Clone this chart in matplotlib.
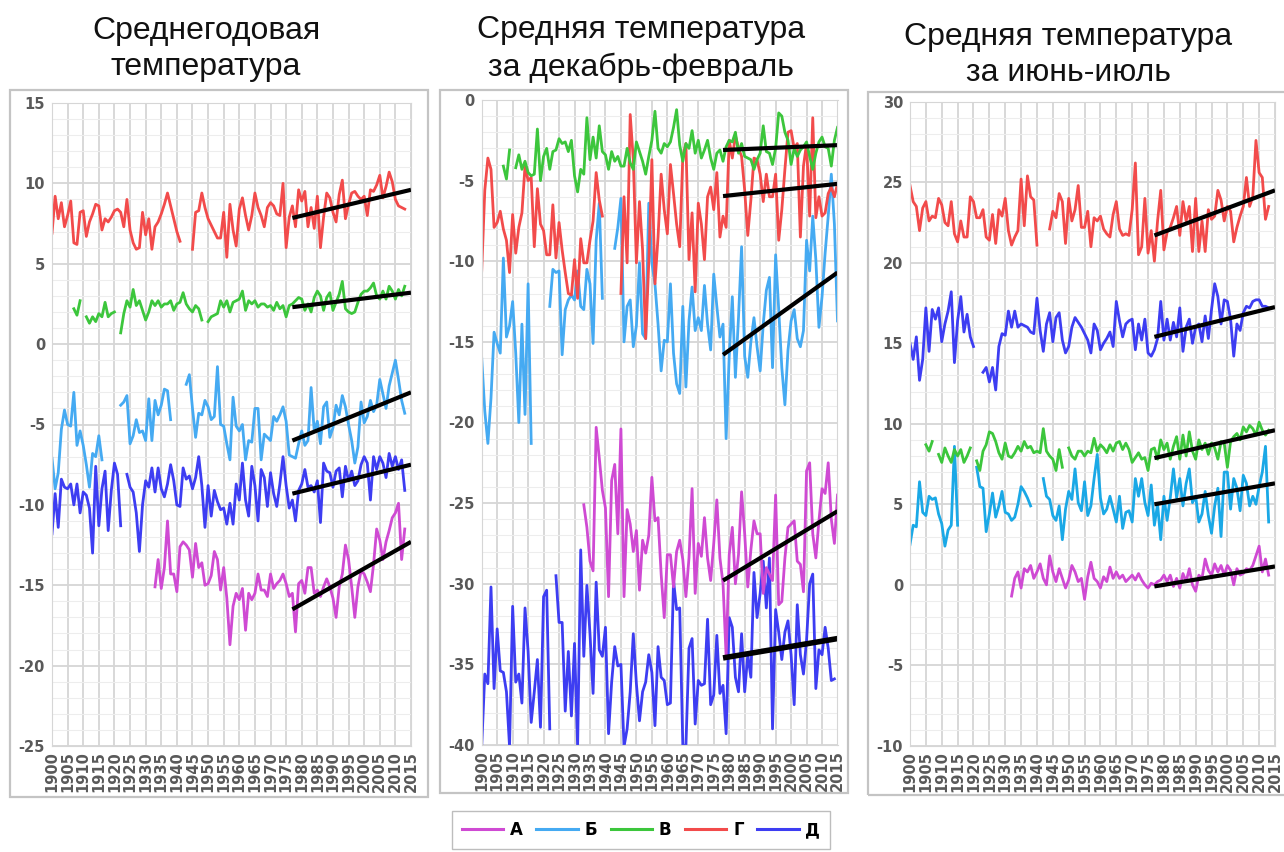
import numpy as np
import matplotlib
matplotlib.use('Agg')
import matplotlib.pyplot as plt
from matplotlib.patches import Rectangle
from matplotlib.lines import Line2D

plt.rcParams['axes.unicode_minus'] = False

nan = np.nan
years = np.arange(1900, 2016)

names = ['А', 'Б', 'В', 'Г', 'Д']
colors = ['#cf4ad3', '#45aaf2', '#3cc63c', '#f24b4b', '#3d3df2']
colors_p3 = ['#cf4ad3', '#1aa8e6', '#3cc63c', '#f24b4b', '#3d3df2']

titles = ['Среднегодовая\nтемпература',
          'Средняя температура\nза декабрь-февраль',
          'Средняя температура\nза июнь-июль']

# ---- panel 1: annual mean ----
p1_a_start = 1933
p1_a = [-15.1, -13.4, -15.2, -13.9, -11.0, -14.3, -14.3,
        -15.4, -12.6, -12.3, -12.5, -12.8, -14.5, -12.4, -13.9, -13.6, -15.0,
        -14.9, -14.4, -12.9, -13.4, -15.3, -13.9, -15.8, -18.7, -16.3, -15.5,
        -15.9, -15.2, -17.8, -15.5, -15.9, -15.5, -14.3, -15.3, -15.3, -15.7,
        -14.3, -15.2, -14.9, -14.7, -14.3, -14.9, -15.7, -15.5, -17.9, -14.9,
        -14.7, -15.5, -13.9, -13.9, -15.5, -15.3, -15.7, -15.1, -14.6, -15.1,
        -15.8, -17.0, -15.1, -14.3, -12.5, -13.4, -15.1, -17.0, -15.1, -14.1,
        -14.3, -14.8, -15.4, -13.7, -11.5, -12.2, -13.4, -12.3, -11.6, -10.8,
        -10.5, -9.9, -13.4, -11.5]
p1_b_start = 1900
p1_b = [-7.1, -9.0, -8.0, -5.3, -4.1, -5.0, -5.1, -3.0, -6.3, -5.4,
        -6.3, -7.5, -8.9, -6.8, -7.0, -5.7, -7.2, nan, nan, nan,
        nan, nan, -3.8, -3.6, -3.2, -6.2, -5.7, -4.7, -5.5, -5.4,
        -6.0, -3.4, -6.0, -3.5, -4.4, -3.8, -2.8, -2.9, -4.7, nan,
        nan, nan, nan, -2.5, -1.9, -4.0, -5.8, -4.3, -4.4, -3.5,
        -3.9, -4.7, -4.5, -1.4, -5.0, -5.1, -6.2, -7.2, -3.3, -5.1,
        -5.4, -5.0, -7.2, -6.0, -6.1, -4.0, -4.0, -7.2, -5.6, -5.8,
        -6.0, -4.5, -4.8, -4.4, -3.9, -4.8, -6.9, -7.0, -7.1, -6.2,
        -5.4, -6.3, -6.0, -2.7, -5.4, -4.8, -6.2, -3.9, -3.6, -5.8,
        -5.2, -3.8, -4.4, -3.2, -3.9, -5.0, -6.0, -7.4, -6.4, -3.6,
        -4.9, -4.5, -3.5, -4.2, -3.8, -2.2, -3.1, -4.0, -2.6, -1.8,
        -1.0, -2.2, -3.5, -4.3]
p1_c_start = 1907
p1_c = [2.2, 1.8, 2.7,
        nan, 1.7, 1.3, 1.7, 1.4, 1.9, 1.7, 2.6, 1.7, 1.9,
        2.0, nan, 0.7, 1.9, 2.7, 2.3, 3.4, 2.4, 2.7, 2.1,
        1.5, 2.0, 2.7, 2.4, 2.7, 2.3, 2.5, 2.5, 2.7, 2.1,
        2.5, 2.6, 3.2, 2.5, 2.2, 2.0, 2.4, 2.2, 1.5, nan,
        1.4, 1.7, 1.8, 1.9, 2.7, 2.3, 2.7, 2.0, 2.6, 2.7,
        2.8, 3.3, 2.1, 2.7, 2.5, 2.7, 2.3, 2.5, 2.5, 2.3,
        2.4, 2.1, 2.6, 2.2, 2.4, 1.7, 2.4, 2.5, 2.7, 2.9,
        2.8, 2.1, 2.5, 2.0, 2.9, 3.3, 3.0, 2.1, 2.9, 3.2,
        2.1, 2.6, 3.1, 3.9, 2.2, 2.0, 1.9, 2.0, 2.6, 3.1,
        3.3, 3.3, 3.5, 3.8, 3.0, 2.8, 3.3, 2.8, 3.6, 3.3,
        2.8, 3.4, 3.0, 3.6]
p1_d_start = 1900
p1_d = [6.9, 9.2, 7.8, 8.8, 7.3, 8.0, 8.9, 6.3, 6.2, 8.2,
        8.3, 6.7, 7.6, 8.1, 8.7, 8.6, 7.1, 7.8, 7.6, 7.9,
        8.3, 8.4, 8.2, 7.3, 9.0, 7.1, 6.3, 5.9, 6.0, 8.2,
        6.8, 7.8, 5.9, 7.3, 7.6, 8.1, 8.7, 9.4, 8.6, 7.8,
        7.0, 6.4, nan, nan, nan, 5.9, 8.2, 8.3, 9.4, 8.5,
        7.8, 7.4, 7.0, 6.6, 6.6, 8.2, 5.4, 8.7, 7.1, 6.1,
        8.4, 9.1, 8.0, 7.1, 8.0, 9.4, 8.5, 8.0, 7.3, 8.5,
        8.8, 8.6, 8.1, 8.0, 10.0, 6.0, 7.9, 8.6, 7.3, 9.6,
        8.9, 9.5, 7.3, 8.5, 7.2, 9.2, 6.0, 7.9, 9.4, 9.1,
        8.2, 7.6, 9.3, 10.2, 7.8, 8.7, 9.4, 9.5, 9.2, 9.0,
        9.2, 8.0, 9.6, 9.5, 9.9, 10.5, 9.1, 9.8, 10.7, 10.1,
        9.0, 8.6, 8.5, 8.4]
p1_e_start = 1900
p1_e = [-11.8, -9.3, -11.4, -8.4, -8.9, -9.0, -8.7, -10.0, -8.7, -10.5,
        -9.2, -9.4, -10.2, -13.0, -7.6, -11.3, -9.0, -7.9, -11.6, -9.1,
        -7.4, -8.1, -11.3, nan, -8.1, -8.9, -9.2, -10.5, -12.9, -10.0,
        -8.5, -8.9, -7.7, -9.2, -7.7, -9.0, -9.5, -8.7, -7.5, -8.5,
        -10.0, -10.1, -7.7, -8.4, -8.2, -9.0, -8.3, -7.0, -8.8, -11.4,
        -8.8, -10.7, -9.1, -9.8, -10.3, -10.2, -11.2, -9.9, -11.2, -8.7,
        -9.7, -7.4, -9.7, -10.7, -7.6, -8.8, -11.0, -7.8, -8.3, -10.1,
        -8.0, -9.3, -10.1, -8.7, -7.0, -8.8, -10.2, -9.7, -11.0, -9.1,
        -8.7, -7.8, -8.9, -8.8, -9.2, -8.5, -11.1, -7.4, -7.9, -8.0,
        -8.9, -7.9, -7.7, -9.5, -7.6, -8.5, -7.9, -8.8, -8.5, -7.5,
        -7.0, -7.4, -9.7, -7.0, -7.8, -7.0, -7.4, -8.3, -6.8, -7.6,
        -7.0, -7.8, -7.2, -9.1]
p1_trend_years = [1977, 2015]
p1_trend_start = [-16.5, -6.0, 2.3, 7.85, -9.3]
p1_trend_end = [-12.3, -3.0, 3.2, 9.6, -7.5]

# ---- panel 2: December-February ----
p2_a_start = 1933
p2_a = [-25.1, -26.5, -28.6, -29.2, -20.3, -22.2, -24.2,
        -25.3, -30.8, -23.6, -22.6, -26.9, -20.4, -30.8, -25.4, -26.3, -28.0,
        -26.7, -30.4, -27.3, -28.1, -27.0, -23.4, -26.1, -25.9, -29.4, -32.1,
        -28.2, -28.2, -30.2, -28.0, -27.3, -28.5, -30.8, -28.4, -24.1, -30.6,
        -27.5, -28.3, -25.9, -28.4, -29.8, -27.5, -24.8, -28.4, -30.0, -34.5,
        -28.2, -26.5, -30.0, -28.2, -24.3, -26.9, -30.2, -27.9, -26.1, -26.9,
        -26.9, -30.6, -29.0, -29.4, -29.8, -24.5, -31.3, -31.1, -28.4, -26.5,
        -26.3, -26.1, -28.6, -28.8, -30.5, -23.0, -22.5, -26.9, -28.4, -26.1,
        -24.1, -24.4, -22.5, -26.0, -27.5, -24.5]
p2_b_start = 1900
p2_b = [-16.0, -19.3, -21.3, -18.5, -14.4, -15.1, -15.7, -9.8, -14.7, -14.0,
        -12.5, -15.7, -20.0, -13.9, -19.5, -11.4, -21.3, nan, nan, nan,
        nan, nan, -12.8, -10.5, -10.7, -10.6, -15.8, -13.0, -12.4, -12.1,
        -12.4, -10.6, -12.8, -13.0, -10.5, -11.4, -15.1, -8.7, -6.4, -12.3,
        nan, nan, nan, -9.2, -7.9, -6.1, -15.0, -12.8, -12.4, -15.3,
        -14.0, -10.1, -14.5, -14.8, -6.4, -10.1, -11.4, -13.9, -16.8, -14.9,
        -15.0, -11.4, -15.7, -17.6, -18.2, -12.8, -17.8, -13.7, -11.6, -14.3,
        -13.5, -14.3, -11.5, -13.9, -15.5, -10.8, -12.8, -14.7, -13.9, -21.0,
        -15.9, -12.2, -17.2, -13.5, -9.1, -15.9, -17.2, -15.0, -13.5, -15.3,
        -16.8, -13.9, -11.8, -11.0, -16.6, -9.6, -13.0, -16.6, -18.9, -15.5,
        -13.7, -13.0, -14.8, -15.3, -14.3, -8.7, -10.6, -7.2, -9.9, -14.1,
        -12.2, -9.5, -7.2, -4.6, -7.7, -13.7]
p2_c_start = 1907
p2_c = [-4.1, -4.9, -3.1,
        nan, -4.2, -3.4, -4.3, -3.8, -4.5, -4.7, -4.6, -1.8, -5.0,
        -3.5, -3.0, -4.3, -3.2, -3.1, -2.4, -2.7, -2.6, -3.2, -2.5,
        -4.7, -5.7, -4.3, -4.6, -1.1, -3.7, -2.3, -3.6, -1.6, -3.2,
        -3.4, -4.3, -3.2, -3.8, -3.5, -4.1, -4.1, -3.0, -3.9, -4.3,
        -2.6, -3.2, -3.8, -4.6, -3.5, -2.5, -0.7, -3.0, -3.3, -2.7,
        -2.9, -2.6, -1.7, -0.6, -2.8, -3.8, -2.7, -3.0, -1.9, -3.3,
        -2.5, -3.6, -3.1, -2.5, -3.6, -4.3, -3.3, -3.1, -3.8, -2.9,
        -2.5, -2.6, -2.0, -3.3, -2.7, -3.5, -3.6, -3.7, -4.3, -3.7,
        -3.3, -1.6, -3.2, -3.3, -4.0, -3.0, -0.8, -1.0, -2.0, -2.5,
        -4.0, -3.0, -3.5, -3.1, -2.9, -2.6, -3.5, -4.3, -3.3, -2.6,
        -2.3, -2.9, -3.0, -4.1, -2.5, -1.7]
p2_d_start = 1900
p2_d = [-10.6, -5.6, -3.6, -4.3, -7.9, -7.6, -6.9, -8.0, -8.7, -10.7,
        -7.1, -9.5, -7.9, -7.0, -4.1, -5.0, -4.8, -9.1, -5.5, -7.7,
        -8.1, -9.6, -9.6, -6.5, -9.8, -7.6, -9.3, -10.7, -12.0, -12.1,
        -9.9, -12.3, -8.6, -10.1, -10.1, -8.7, -7.5, -4.5, -6.2, -7.2,
        nan, nan, nan, nan, nan, -12.0, -6.0, -10.1, -0.9, -3.7,
        -10.1, -6.3, -9.3, -14.8, -10.1, -3.7, -11.4, -8.5, -4.6, -6.8,
        -8.3, -4.0, -5.8, -7.7, -9.1, -3.5, -2.7, -9.9, -7.0, -11.9,
        -6.4, -7.7, -9.9, -6.0, -5.4, -6.8, -4.5, -8.5, -7.2, -7.9,
        -2.5, -3.6, -2.2, -3.0, -3.5, -5.6, -8.4, -6.2, -3.6, -3.7,
        -4.6, -6.3, -4.6, -6.0, -6.0, -4.6, -8.7, -6.8, -4.3, -2.0,
        -1.9, -3.0, -2.7, -8.5, -4.1, -2.7, -7.2, -1.1, -7.3, -6.0,
        -7.2, -7.0, -5.8, -5.4, -6.0, -5.2]
p2_e_start = 1900
p2_e = [-40.1, -35.6, -36.2, -30.2, -36.5, -32.8, -35.4, -35.5, -36.7, -40.1,
        -31.4, -36.1, -35.6, -37.4, -31.5, -34.2, -38.6, -36.7, -34.7, -38.9,
        -30.8, -30.4, -39.0, nan, -29.5, -32.4, -32.4, -37.9, -34.2, -38.2,
        -33.7, -40.1, -27.9, -34.5, -30.1, -33.1, -36.8, -29.9, -34.1, -34.5,
        -32.7, -39.3, -36.1, -33.9, -35.1, -35.0, -40.1, -39.0, -36.7, -33.1,
        -36.2, -38.5, -36.7, -36.1, -34.4, -35.5, -38.8, -33.9, -35.8, -36.0,
        -37.5, -37.4, -29.8, -31.6, -31.5, -40.0, -40.1, -34.0, -33.4, -38.7,
        -36.0, -36.3, -36.2, -32.2, -37.5, -36.9, -33.2, -36.8, -36.3, -39.3,
        -32.1, -32.7, -35.8, -36.7, -33.1, -36.7, -34.4, -35.8, -29.3, -32.1,
        -30.6, -28.6, -31.5, -28.4, -39.0, -31.6, -33.0, -34.7, -33.0, -32.3,
        -34.4, -37.5, -31.3, -34.4, -35.6, -33.5, -30.0, -29.4, -36.5, -34.1,
        -34.4, -32.7, -34.0, -36.0, -35.9, nan]
p2_trend_years = [1978, 2015]
p2_trend_start = [-29.8, -15.8, -3.1, -5.96, -34.6]
p2_trend_end = [-25.5, -10.7, -2.8, -5.2, -33.4]

# ---- panel 3: June-July ----
p3_a_start = 1932
p3_a = [-0.7, 0.4, 0.8, -0.2, 1.0, 0.8, 1.2, 0.4,
        0.8, 1.3, 0.4, 0.0, 1.8, 0.8, 0.2, 1.0, 0.4, -0.2,
        0.3, 1.2, 0.8, 0.2, 0.4, -0.9, 0.5, 1.4, 0.4, 0.2,
        -0.2, 0.5, 0.2, 1.1, 0.4, 0.8, 0.4, 0.6, 0.2, 0.4,
        0.6, 0.3, 0.7, 0.3, 0.0, -0.2, 0.1, 0.0, 0.2, 0.3,
        0.6, 0.2, 0.6, -0.1, 0.4, -0.2, 0.7, 0.2, 1.0, 0.0,
        -0.4, 0.6, 0.4, 1.6, 0.9, 0.6, 1.3, 0.8, 1.2, 0.6,
        1.2, 0.9, 0.0, 1.0, 0.6, 0.7, 1.0, 0.9, 1.2, 1.8,
        2.4, 0.8, 1.6, 0.6]
p3_b_start = 1900
p3_b = [2.5, 3.7, 3.6, 6.4, 4.5, 4.3, 5.5, 5.3, 5.4, 4.4,
        3.8, 2.4, 3.4, 3.7, 8.6, 3.7, nan, nan, nan, nan,
        nan, 7.3, 6.1, 6.0, 3.3, 4.4, 5.7, 4.2, 4.9, 5.8,
        4.5, 4.4, 4.0, 4.2, 5.0, 6.1, 5.8, 5.4, 4.9, nan,
        nan, nan, 6.6, 5.5, 5.3, 4.3, 4.0, 4.9, 2.8, 4.7,
        5.8, 5.3, 7.2, 5.1, 4.6, 6.4, 4.3, 4.9, 6.6, 8.1,
        5.4, 4.4, 4.7, 5.5, 4.7, 3.9, 5.5, 3.5, 4.5, 4.6,
        3.9, 6.6, 5.5, 6.6, 5.1, 4.3, 6.2, 3.7, 5.0, 2.8,
        5.5, 4.0, 5.4, 7.2, 5.4, 6.6, 4.9, 6.3, 7.2, 5.1,
        5.5, 3.9, 4.4, 5.8, 4.3, 3.2, 4.9, 6.0, 3.0, 7.0,
        7.0, 4.7, 6.6, 6.0, 4.6, 6.8, 6.3, 4.9, 5.5, 5.0,
        6.1, 7.0, 8.6, 3.9]
p3_c_start = 1905
p3_c = [8.7, 8.3, 8.9, nan, 8.1,
        7.6, 8.5, 8.0, 7.6, 8.4, 8.0, 8.4, 7.6, 8.0, 8.5,
        nan, 7.7, 7.1, 8.3, 8.7, 9.5, 9.4, 8.9, 8.2, 7.8,
        8.8, 8.0, 7.9, 8.2, 8.6, 8.3, 8.9, 8.5, 8.6, 8.2,
        8.3, 8.2, 9.7, 8.3, 8.0, 7.8, 7.1, 8.4, 7.3, nan,
        8.5, 8.0, 7.8, 8.3, 8.3, 8.0, 8.3, 8.2, 9.1, 8.3,
        8.7, 8.5, 8.2, 8.7, 8.3, 8.8, 8.9, 8.4, 8.8, 8.4,
        7.6, 7.9, 8.2, 7.8, 7.9, 7.1, 8.4, 8.5, 7.8, 9.0,
        8.4, 8.8, 7.8, 8.6, 9.2, 7.8, 9.3, 8.0, 9.5, 8.3,
        7.8, 9.0, 8.4, 8.8, 8.1, 8.8, 8.5, 7.8, 8.9, 8.8,
        7.3, 8.9, 9.2, 9.4, 9.0, 9.8, 9.5, 9.9, 9.7, 9.3,
        10.1, 9.6, 9.3, 9.6]
p3_d_start = 1900
p3_d = [24.8, 23.8, 23.5, 22.0, 23.4, 23.8, 22.6, 22.9, 22.8, 24.0,
        23.6, 22.5, 22.3, 23.8, 21.8, 21.3, 22.6, 21.6, 21.6, 24.1,
        23.8, 22.8, 22.8, 23.3, 21.6, 21.4, 23.0, 21.2, 23.3, 22.9,
        24.0, 22.0, 21.1, 21.6, 22.0, 25.2, 22.3, 25.4, 24.1, 23.9,
        21.1, nan, nan, nan, 22.1, 23.2, 22.8, 24.3, 23.8, 21.2,
        24.0, 22.6, 23.3, 24.8, 22.2, 22.2, 23.2, 21.0, 22.8, 22.6,
        22.9, 22.1, 21.8, 21.6, 23.0, 23.8, 22.1, 21.7, 21.8, 21.7,
        23.3, 26.2, 20.5, 21.0, 24.0, 20.6, 22.0, 20.1, 22.6, 24.5,
        20.8, 21.9, 22.2, 22.8, 23.5, 21.7, 23.8, 22.6, 23.5, 20.7,
        24.0, 20.7, 22.6, 20.7, 23.3, 22.7, 22.9, 24.5, 23.9, 22.6,
        23.5, 23.2, 21.3, 22.2, 22.9, 23.5, 25.3, 23.5, 24.1, 27.6,
        25.6, 25.3, 22.7, 23.5]
p3_e_start = 1900
p3_e = [15.0, 14.0, 15.4, 12.7, 14.0, 17.2, 14.5, 17.1, 16.5, 17.2,
        15.1, 16.2, 17.0, 18.2, 13.8, 16.4, 17.9, 15.7, 16.8, 15.4,
        14.8, nan, nan, 13.2, 13.5, 12.6, 13.5, 12.1, 14.8, 15.6,
        15.5, 17.0, 16.0, 17.0, 16.0, 16.2, 16.1, 16.0, 15.7, 15.6,
        17.8, 15.8, 14.5, 16.2, 16.9, 15.1, 16.6, 16.9, 15.2, 14.4,
        14.8, 16.0, 16.6, 16.3, 16.0, 15.6, 15.2, 14.4, 16.2, 15.8,
        14.6, 15.0, 15.3, 15.7, 14.8, 17.6, 16.4, 15.4, 16.2, 16.4,
        16.5, 14.6, 16.2, 15.2, 16.5, 14.4, 14.2, 14.6, 15.3, 17.6,
        15.2, 16.5, 15.2, 16.3, 15.4, 17.2, 14.5, 16.0, 16.5, 15.0,
        16.0, 16.2, 15.1, 16.7, 15.3, 17.1, 18.7, 17.9, 16.2, 17.7,
        17.6, 16.5, 14.2, 16.2, 15.8, 16.9, 17.3, 17.2, 17.6, 17.7,
        17.7, 17.3, 17.3, 17.2]
p3_trend_years = [1977, 2015]
p3_trend_start = [-0.1, 5.0, 7.87, 21.7, 15.4]
p3_trend_end = [1.14, 6.3, 9.6, 24.5, 17.25]


def pad(start, values):
    out = np.full(len(years), np.nan)
    i = start - years[0]
    out[i:i + len(values)] = values
    return out


def setup(ax, ylo, yhi):
    ax.set_xlim(1900, 2015)
    ax.set_ylim(ylo, yhi)
    ticks = list(range(1900, 2016, 5))
    ax.set_xticks(ticks)
    ax.set_xticklabels([str(t) for t in ticks], rotation=90)
    ax.set_yticks(range(ylo, yhi + 1, 5))
    ax.set_yticks(range(ylo, yhi + 1, 1), minor=True)
    ax.grid(which='major', color='#d6d6d6', lw=1.3)
    ax.grid(which='minor', axis='y', color='#ededed', lw=0.8)
    ax.tick_params(which='both', length=0)
    ax.tick_params(axis='y', pad=5)
    ax.tick_params(axis='x', pad=4)
    for lab in ax.get_xticklabels() + ax.get_yticklabels():
        lab.set_fontsize(10.5)
        lab.set_fontweight('bold')
        lab.set_color('#595959')
    for s in ax.spines.values():
        s.set_color('#d6d6d6')
    ax.set_axisbelow(True)


fig = plt.figure(figsize=(12.84, 8.52), dpi=100)
W, H = 1284.0, 852.0

panels = [
    dict(box=(52, 103, 411, 746), ylim=(-25, 15), frame=(10, 90, 428, 797),
         series=[(p1_a_start, p1_a), (p1_b_start, p1_b), (p1_c_start, p1_c),
                 (p1_d_start, p1_d), (p1_e_start, p1_e)],
         cols=colors, ty=p1_trend_years, ts=p1_trend_start, te=p1_trend_end,
         title_xy=(206, 49), thick=None),
    dict(box=(481.7, 100, 837.5, 745), ylim=(-40, 0), frame=(440, 90, 848, 793),
         series=[(p2_a_start, p2_a), (p2_b_start, p2_b), (p2_c_start, p2_c),
                 (p2_d_start, p2_d), (p2_e_start, p2_e)],
         cols=colors, ty=p2_trend_years, ts=p2_trend_start, te=p2_trend_end,
         title_xy=(641, 49), thick=4),
    dict(box=(910, 101.8, 1275, 745.8), ylim=(-10, 30), frame=(868, 92, 1292, 795),
         series=[(p3_a_start, p3_a), (p3_b_start, p3_b), (p3_c_start, p3_c),
                 (p3_d_start, p3_d), (p3_e_start, p3_e)],
         cols=colors_p3, ty=p3_trend_years, ts=p3_trend_start, te=p3_trend_end,
         title_xy=(1068, 55), thick=None),
]

draw_order = [1, 3, 2, 4, 0]

for k, p in enumerate(panels):
    fx0, fy0, fx1, fy1 = p['frame']
    fig.add_artist(Rectangle((fx0 / W, 1 - fy1 / H), (fx1 - fx0) / W, (fy1 - fy0) / H,
                             transform=fig.transFigure, fill=False,
                             ec='#c4c4c4', lw=1.6))
    x0, y0, x1, y1 = p['box']
    ax = fig.add_axes([x0 / W, 1 - y1 / H, (x1 - x0) / W, (y1 - y0) / H])
    setup(ax, *p['ylim'])
    for i in draw_order:
        start, vals = p['series'][i]
        ax.plot(years, pad(start, vals), color=p['cols'][i], lw=2.0,
                solid_joinstyle='round')
    for i in range(5):
        lw = 3.0
        if p['thick'] is not None and i == 4:
            lw = p['thick']
        ax.plot(p['ty'], [p['ts'][i], p['te'][i]], color='black', lw=lw,
                solid_capstyle='butt')
    tx, tyy = p['title_xy']
    fig.text(tx / W, 1 - tyy / H, titles[k], ha='center', va='center',
             fontsize=23, family='Liberation Sans', color='#111111',
             linespacing=1.3)

handles = [Line2D([], [], color=c, lw=2.2) for c in colors]
fig.legend(handles, names, loc='center', bbox_to_anchor=(641 / W, 1 - 830 / H),
           ncol=5, frameon=True, fancybox=False, edgecolor='#bdbdbd',
           framealpha=1, handlelength=2.5, handletextpad=0.4,
           columnspacing=0.8, borderpad=0.6,
           prop={'weight': 'bold', 'size': 12, 'family': 'DejaVu Sans'})

fig.savefig('out.png', dpi=100)
